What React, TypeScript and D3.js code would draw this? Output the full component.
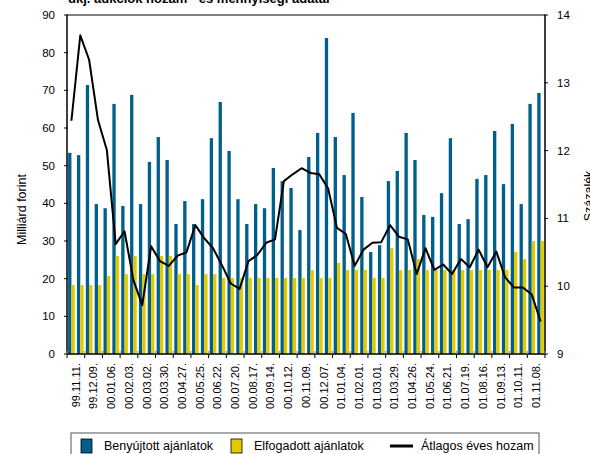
import React from 'react';
import * as d3 from 'd3';

// every second auction is labelled on the axis
const TICK_LABELS = [
  '99.11.11.', '99.12.09.', '00.01.06.', '00.02.03.', '00.03.02.', '00.03.30.', '00.04.27.',
  '00.05.25.', '00.06.22.', '00.07.20.', '00.08.17.', '00.09.14.', '00.10.12.', '00.11.09.',
  '00.12.07.', '01.01.04.', '01.02.01.', '01.03.01.', '01.03.29.', '01.04.26.', '01.05.24.',
  '01.06.21.', '01.07.19.', '01.08.16.', '01.09.13.', '01.10.11.', '01.11.08.',
];

const BENYUJTOTT = [
  53.4, 52.8, 71.4, 39.8, 38.7, 66.4, 39.3, 68.8, 39.8, 51.0,
  57.6, 51.5, 34.5, 40.6, 34.5, 41.1, 57.3, 66.9, 53.9, 41.1,
  34.5, 39.8, 38.7, 49.4, 45.9, 44.1, 32.9, 52.3, 58.7, 83.9,
  57.6, 47.5, 64.0, 41.7, 27.1, 28.9, 45.9, 48.6, 58.7, 51.5,
  36.9, 36.4, 42.7, 57.3, 34.5, 35.8, 46.5, 47.5, 59.2, 45.1,
  61.1, 39.8, 66.4, 69.3,
];

const ELFOGADOTT = [
  18.3, 18.3, 18.3, 18.3, 20.7, 26.0, 21.2, 26.0, 21.2, 21.2,
  26.0, 26.0, 21.2, 21.2, 18.3, 21.2, 21.2, 20.2, 20.2, 20.2,
  20.2, 20.2, 20.2, 20.2, 20.2, 20.2, 20.2, 22.3, 20.2, 20.2,
  24.2, 22.3, 22.3, 22.3, 20.2, 20.2, 28.1, 22.3, 22.3, 25.2,
  22.3, 22.3, 22.3, 22.3, 22.3, 22.3, 22.3, 22.3, 22.3, 22.3,
  27.1, 25.2, 30.0, 30.0,
];

const HOZAM = [
  12.44, 13.70, 13.34, 12.45, 12.01, 10.62, 10.81, 10.09, 9.72, 10.59,
  10.37, 10.30, 10.45, 10.50, 10.90, 10.71, 10.56, 10.31, 10.04, 9.96,
  10.37, 10.46, 10.64, 10.69, 11.55, 11.65, 11.74, 11.67, 11.65, 11.44,
  10.86, 10.77, 10.30, 10.54, 10.64, 10.65, 10.90, 10.73, 10.69, 10.18,
  10.56, 10.24, 10.32, 10.18, 10.40, 10.28, 10.54, 10.28, 10.51, 10.13,
  9.98, 9.98, 9.88, 9.48,
];

const LEFT_TICKS = [0, 10, 20, 30, 40, 50, 60, 70, 80, 90];
const RIGHT_TICKS = [9, 10, 11, 12, 13, 14];

const W = 590;
const H = 454;
const X0 = 67;
const X1 = 545;
const Y_TOP = 15;
const Y_BOT = 354;
const BLUE = '#005f8b';
const YELLOW = '#e2c900';
const NARROW = '"Liberation Sans Narrow", "Arial Narrow", "Liberation Sans", sans-serif';

export default function App() {
  const idx = d3.range(BENYUJTOTT.length);
  const x = d3.scaleBand<number>().domain(idx).range([X0, X1]).padding(0);
  const bw = x.bandwidth();
  const inner = d3.scaleBand<string>().domain(['b', 'e']).range([0, bw])
    .paddingInner(0).paddingOuter(0.33);
  const yL = d3.scaleLinear().domain([0, 90]).range([Y_BOT, Y_TOP]);
  const yR = d3.scaleLinear().domain([9, 14]).range([Y_BOT, Y_TOP]);
  const line = d3.line<number>()
    .x((_, i) => (x(i) as number) + bw / 2)
    .y(d => yR(d));

  const tickXs = d3.range(0, idx.length + 1, 2).map(i => X0 + i * bw);

  return (
    <div style={{ position: 'fixed', left: 0, top: 0, width: W, height: H, background: '#fff' }}>
      <svg width={W} height={H} style={{ display: 'block' }}>
        <text x={68} y={3} fontFamily='"Liberation Sans", Arial, sans-serif' fontWeight="bold"
          fontSize={13} fill="#000">ukj. aukciók hozam - és mennyiségi adatai</text>

        {idx.map(i => (
          <g key={i}>
            <rect x={(x(i) as number) + (inner('b') as number)} y={yL(BENYUJTOTT[i])}
              width={inner.bandwidth()} height={Y_BOT - yL(BENYUJTOTT[i])} fill={BLUE} />
            <rect x={(x(i) as number) + (inner('e') as number)} y={yL(ELFOGADOTT[i])}
              width={inner.bandwidth()} height={Y_BOT - yL(ELFOGADOTT[i])} fill={YELLOW} />
          </g>
        ))}

        <path d={line(HOZAM) || ''} fill="none" stroke="#000" strokeWidth={2} strokeLinejoin="round" />

        {/* frame */}
        <line x1={X0} x2={X1} y1={Y_TOP} y2={Y_TOP} stroke="#000" strokeWidth={1} />
        <line x1={X0} x2={X0} y1={Y_TOP} y2={Y_BOT} stroke="#000" strokeWidth={1.5} />
        <line x1={X1} x2={X1} y1={Y_TOP} y2={Y_BOT} stroke="#000" strokeWidth={1.5} />
        <line x1={X0} x2={X1} y1={Y_BOT} y2={Y_BOT} stroke="#000" strokeWidth={1.5} />

        {LEFT_TICKS.map(t => (
          <g key={'l' + t}>
            <line x1={X0 - 3} x2={X0 + 1} y1={yL(t)} y2={yL(t)} stroke="#000" />
            <text x={55} y={yL(t)} dy="0.35em" textAnchor="end" fontFamily={NARROW}
              fontSize={11.5} fill="#000">{t}</text>
          </g>
        ))}
        {RIGHT_TICKS.map(t => (
          <g key={'r' + t}>
            <line x1={X1 - 1} x2={X1 + 3} y1={yR(t)} y2={yR(t)} stroke="#000" />
            <text x={557} y={yR(t)} dy="0.35em" fontFamily={NARROW}
              fontSize={11.5} fill="#000">{t}</text>
          </g>
        ))}

        {tickXs.map((tx, k) => (
          <g key={'t' + k}>
            <line x1={tx} x2={tx} y1={Y_BOT - 3} y2={Y_BOT} stroke="#888" />
            <line x1={tx} x2={tx} y1={Y_BOT} y2={Y_BOT + 4} stroke="#000" />
          </g>
        ))}

        {TICK_LABELS.map((lab, k) => {
          const cx = (x(k * 2) as number) + bw;
          return (
            <text key={'c' + k} transform={`translate(${cx},${Y_BOT + 9}) rotate(-90)`}
              dy="0.35em" textAnchor="end" fontFamily={NARROW} fontSize={11} fill="#000">{lab}</text>
          );
        })}

        <text transform={`translate(26,${(Y_TOP + Y_BOT) / 2 + 25}) rotate(-90)`} textAnchor="middle"
          fontFamily={NARROW} fontSize={12.5} fill="#000">Milliárd forint</text>
        <text transform={`translate(593,196) rotate(-90)`} textAnchor="middle"
          fontFamily={NARROW} fontSize={12.5} fill="#000">Százalék</text>

        {/* legend */}
        <rect x={71} y={433} width={468} height={30} fill="#fff" stroke="#555" strokeWidth={1} />
        <rect x={81} y={439} width={11} height={14} fill={BLUE} stroke="#000" strokeWidth={0.8} />
        <text x={104} y={450} fontFamily={NARROW} fontSize={12.5} fill="#000">Benyújtott ajánlatok</text>
        <rect x={231} y={439} width={11} height={14} fill={YELLOW} stroke="#000" strokeWidth={0.8} />
        <text x={254} y={450} fontFamily={NARROW} fontSize={12.5} fill="#000">Elfogadott ajánlatok</text>
        <line x1={390} x2={413} y1={446} y2={446} stroke="#000" strokeWidth={3} />
        <text x={421} y={450} fontFamily={NARROW} fontSize={12.5} fill="#000">Átlagos éves hozam</text>
      </svg>
    </div>
  );
}
